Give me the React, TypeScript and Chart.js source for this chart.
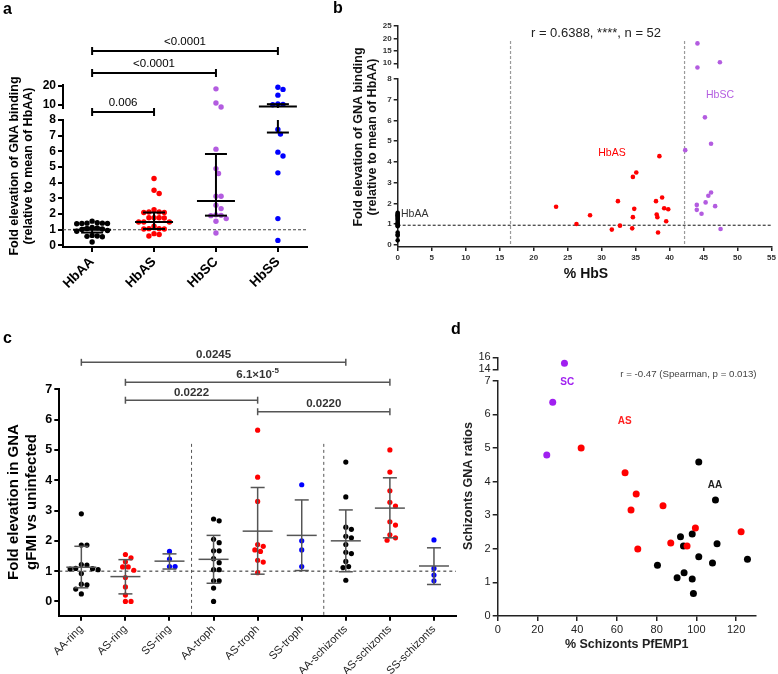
import React, { useEffect, useRef } from 'react';
import { Chart, registerables } from 'chart.js';

Chart.register(...registerables);
const FONT = '"Liberation Sans", Arial, Helvetica, sans-serif';
Chart.defaults.font.family = FONT;

// ================= DATA =================
// ---- Panel a ----
const aCategories = ['HbAA', 'HbAS', 'HbSC', 'HbSS'];
const aHbAA = [1.55, 1.45, 1.42, 1.42, 1.4, 1.4, 1.38, 1.15, 1.12, 1.08, 1.05, 1.02, 0.95, 0.9, 0.64, 0.6, 0.58, 0.55, 0.22];
const aHbAS = [4.27, 3.52, 3.31, 2.28, 2.13, 2.13, 2.1, 2.1, 1.77, 1.77, 1.77, 1.75, 1.49, 1.49, 1.49, 1.22, 1.07, 1.07, 1.05, 1.05, 0.75, 0.7, 0.6];
const aHbSC = [18.3, 10.9, 8.8, 6.14, 4.9, 4.59, 3.14, 3.14, 2.56, 2.35, 1.95, 1.92, 1.9, 1.71, 1.54, 0.79];
const aHbSS = [19.1, 18.0, 15.0, 10.4, 10.2, 10.0, 7.4, 7.1, 5.95, 5.7, 4.63, 1.71, 0.32];
const aMedian = [1.0, 1.5, 2.83, 9.1];
const aLow = [0.82, 1.05, 1.9, 7.2];
const aHigh = [1.12, 2.1, 5.83, 10.3];
const aLowTicks = [0, 1, 2, 3, 4, 5, 6, 7, 8];
const aHighTicks = [10, 20];
const aBrackets: [number, number, string][] = [[0, 3, '<0.0001'], [0, 2, '<0.0001'], [0, 1, '0.006']];
const aReference = 1;

// ---- Panel b ----
const bHbAA_x = [0, 0, 0, 0, 0, 0, 0, 0, 0, 0, 0, 0, 0, 0, 0, 0, 0, 0];
const bHbAA_y = [1.55, 1.5, 1.45, 1.42, 1.4, 1.35, 1.3, 1.25, 1.2, 1.1, 1.05, 1.0, 0.95, 0.9, 0.6, 0.5, 0.45, 0.22];
const bHbAS_x = [23.3, 26.3, 28.3, 31.5, 32.4, 32.7, 34.5, 34.6, 34.6, 34.8, 35.1, 38.0, 38.1, 38.2, 38.3, 38.5, 38.9, 39.2, 39.5, 39.8];
const bHbAS_y = [1.84, 1.01, 1.43, 0.74, 2.11, 0.93, 0.8, 1.34, 3.28, 1.74, 3.49, 2.11, 1.47, 1.34, 0.6, 4.28, 2.29, 1.77, 1.14, 1.72];
const bHbSC_x = [44.1, 44.1, 47.4, 45.2, 46.1, 42.3, 46.1, 45.7, 45.3, 44.0, 44.0, 46.7, 44.7, 47.5];
const bHbSC_y = [18.0, 8.3, 10.4, 6.15, 4.88, 4.57, 2.53, 2.37, 2.05, 1.93, 1.69, 1.87, 1.5, 0.77];
const bXTicks = [0, 5, 10, 15, 20, 25, 30, 35, 40, 45, 50, 55];
const bLowTicks = [0, 1, 2, 3, 4, 5, 6, 7, 8];
const bHighTicks = [10, 15, 20, 25];
const bGuides = [16.6, 42.2];
const bReference = 0.95;

// ---- Panel c ----
const cCategories = ['AA-ring', 'AS-ring', 'SS-ring', 'AA-troph', 'AS-troph', 'SS-troph', 'AA-schizonts', 'AS-schizonts', 'SS-schizonts'];
const cAAring = [2.89, 1.86, 1.86, 1.22, 1.2, 1.09, 1.08, 1.07, 1.05, 0.92, 0.57, 0.55, 0.41, 0.25];
const cASring = [1.55, 1.44, 1.31, 1.14, 1.14, 1.03, 0.79, 0.48, 0.21, 0.0, 0.0];
const cSSring = [1.65, 1.4, 1.15, 1.15];
const cAAtroph = [2.72, 2.66, 2.05, 1.94, 1.67, 1.67, 1.41, 1.28, 1.05, 1.05, 0.68, 0.68, 0.44, 0.0];
const cAStroph = [5.65, 4.1, 3.3, 1.88, 1.82, 1.7, 1.65, 1.36, 1.3, 0.95];
const cSStroph = [3.85, 2.0, 1.7, 1.15];
const cAAschiz = [4.6, 3.45, 2.45, 2.38, 2.15, 2.1, 1.88, 1.62, 1.58, 1.32, 1.15, 1.12, 0.7];
const cASschiz = [5.0, 4.27, 3.65, 3.27, 3.15, 2.63, 2.52, 2.2, 2.1, 2.02];
const cSSschiz = [2.03, 1.09, 0.87, 0.68];
const cMean = [1.13, 0.82, 1.33, 1.39, 2.32, 2.18, 2.0, 3.08, 1.17];
const cLow = [0.45, 0.25, 1.07, 0.6, 0.9, 1.02, 0.98, 2.1, 0.56];
const cHigh = [1.82, 1.38, 1.57, 2.18, 3.76, 3.35, 3.02, 4.08, 1.77];
const cTicks = [0, 1, 2, 3, 4, 5, 6, 7];
const cBrackets: [number, number, string, string][] = [[0, 6, '0.0245', ''], [1, 7, '6.1×10', '-5'], [1, 4, '0.0222', ''], [4, 7, '0.0220', '']];
const cDividers = [2.5, 5.5];
const cReference = 1;

// ---- Panel d ----
const dSC_x = [33.6, 27.7, 24.7];
const dSC_y = [15.0, 6.36, 4.79];
const dAS_x = [42.0, 64.1, 69.7, 67.1, 83.2, 99.5, 122.5, 87.1, 95.3, 70.5];
const dAS_y = [5.0, 4.26, 3.63, 3.15, 3.28, 2.62, 2.51, 2.17, 2.08, 1.99];
const dAA_x = [101.2, 109.6, 92.0, 97.9, 93.5, 110.4, 101.2, 80.4, 108.1, 125.7, 90.3, 93.8, 97.9, 98.5];
const dAA_y = [4.58, 3.45, 2.36, 2.44, 2.08, 2.15, 1.76, 1.51, 1.58, 1.69, 1.14, 1.29, 1.1, 0.67];
const dXTicks = [0, 20, 40, 60, 80, 100, 120];
const dLowTicks = [0, 1, 2, 3, 4, 5, 6, 7];
const dHighTicks = [14, 16];

// ================= HELPERS =================
const PURPLE_AB = '#b35ce0';
const PURPLE_D = '#a020f0';

function swarm(values: number[], toPx: (v: number) => number, pxPerX: number, d: number): number[] {
  const order = values.map((_, i) => i).sort((p, q) => values[q] - values[p]);
  const placed: { x: number; y: number }[] = [];
  const out = values.map(() => 0);
  const step = d / 2;
  for (const i of order) {
    const y = toPx(values[i]);
    for (let k = 0; k < 80; k++) {
      const off = k === 0 ? 0 : (k % 2 === 1 ? 1 : -1) * Math.ceil(k / 2) * step;
      if (placed.every((p) => (p.x - off) ** 2 + (p.y - y) ** 2 >= d * d - 0.01)) {
        placed.push({ x: off, y });
        out[i] = off / pxPerX;
        break;
      }
    }
  }
  return out;
}

function pointSet(data: any[], color: string, r: number, yAxisID: string) {
  return {
    data, yAxisID, xAxisID: 'x', showLine: false, clip: false,
    pointRadius: r, pointHoverRadius: r, pointBorderWidth: 0,
    pointBackgroundColor: color, backgroundColor: color, borderColor: color,
  };
}

function yAxis(st: any, width: number, min: number, max: number, ticks: number[], extra: any = {}) {
  return {
    type: 'linear', position: 'left', min, max,
    afterFit: (s: any) => { s.width = width; },
    afterBuildTicks: (s: any) => { s.ticks = ticks.map((value) => ({ value })); },
    border: { display: true, color: st.line, width: st.lw },
    grid: { display: true, drawOnChartArea: false, drawTicks: true, tickLength: st.tick, color: st.line, lineWidth: st.lw },
    ticks: { display: true, autoSkip: false, font: st.font, color: st.color, padding: 2 },
    ...extra,
  };
}

function gapAxis(width: number, weight: number) {
  return {
    type: 'linear', position: 'left', stack: 'y', stackWeight: weight, min: 0, max: 1,
    afterFit: (s: any) => { s.width = width; },
    border: { display: false }, grid: { display: false }, ticks: { display: false },
  };
}

function xAxis(st: any, height: number, min: number, max: number, ticks: number[], labels: string[] | null, rot: number) {
  return {
    type: 'linear', position: 'bottom', min, max,
    afterFit: (s: any) => { s.height = height; },
    afterBuildTicks: (s: any) => { s.ticks = ticks.map((value) => ({ value })); },
    border: { display: true, color: st.line, width: st.lw },
    grid: { display: true, drawOnChartArea: false, drawTicks: true, tickLength: st.tick, color: st.line, lineWidth: st.lw },
    ticks: {
      display: true, autoSkip: false, minRotation: rot, maxRotation: rot, font: st.font, color: st.color, padding: 2,
      callback: (v: any) => (labels ? labels[Math.round(v)] : String(v)),
    },
  };
}

function baseOptions(padding: any, scales: any) {
  return {
    responsive: false, animation: false, events: [],
    layout: { padding },
    plugins: { legend: { display: false }, tooltip: { enabled: false }, title: { display: false } },
    scales,
  };
}

function txt(ctx: any, t: string, x: number, y: number, font: string, color: string, rot = 0, align = 'center', base = 'middle') {
  ctx.save();
  ctx.font = font;
  ctx.fillStyle = color;
  ctx.textAlign = align;
  ctx.textBaseline = base;
  ctx.translate(x, y);
  if (rot) ctx.rotate(rot);
  ctx.fillText(t, 0, 0);
  ctx.restore();
}

function seg(ctx: any, x1: number, y1: number, x2: number, y2: number) {
  ctx.beginPath();
  ctx.moveTo(x1, y1);
  ctx.lineTo(x2, y2);
  ctx.stroke();
}

// ================= PANEL A =================
const A = { w: 320, h: 325, left: 63, right: 307, top: 85, bottom: 247, split: 8.05, bracketY: [51, 73, 112] };
function configA() {
  const colors = ['#000000', '#ff0000', PURPLE_AB, '#0000ff'];
  const groups = [aHbAA, aHbAS, aHbSC, aHbSS];
  const r = 2.7;
  const toPx = (v: number) => (v <= 8 ? v * 15.6 : 8 * 15.6 + 12 + (v - 8.3) * 1.92);
  const datasets: any[] = [];
  groups.forEach((vals, i) => {
    const off = swarm(vals, toPx, 62, 2 * r * 0.95);
    const lo: any[] = [];
    const hi: any[] = [];
    vals.forEach((v, j) => (v > A.split ? hi : lo).push({ x: i + off[j], y: v }));
    datasets.push(pointSet(lo, colors[i], r, 'yLow'));
    if (hi.length) datasets.push(pointSet(hi, colors[i], r, 'yHigh'));
  });
  const st = { font: { size: 12, weight: 'bold' }, color: '#000', line: '#000', lw: 2, tick: 5 };
  const plugin = {
    id: 'panelA',
    beforeDatasetsDraw(chart: any) {
      const { ctx, chartArea, scales } = chart;
      const y = scales.yLow.getPixelForValue(aReference);
      ctx.save();
      ctx.strokeStyle = '#444';
      ctx.lineWidth = 1;
      ctx.setLineDash([3, 2]);
      seg(ctx, chartArea.left, y, chartArea.right, y);
      ctx.restore();
    },
    afterDatasetsDraw(chart: any) {
      const { ctx, scales } = chart;
      const { x, yLow, yHigh } = scales;
      const Y = (v: number) => (v > A.split ? yHigh.getPixelForValue(v) : yLow.getPixelForValue(v));
      ctx.save();
      ctx.strokeStyle = '#000';
      ctx.lineWidth = 2;
      aCategories.forEach((_, i) => {
        const cx = x.getPixelForValue(i);
        seg(ctx, cx - 19, Y(aMedian[i]), cx + 19, Y(aMedian[i]));
        seg(ctx, cx - 11, Y(aLow[i]), cx + 11, Y(aLow[i]));
        seg(ctx, cx - 11, Y(aHigh[i]), cx + 11, Y(aHigh[i]));
        if (aLow[i] <= A.split && aHigh[i] > A.split) {
          seg(ctx, cx, Y(aLow[i]), cx, yLow.getPixelForValue(yLow.max));
          seg(ctx, cx, yHigh.getPixelForValue(yHigh.min), cx, Y(aHigh[i]));
        } else {
          seg(ctx, cx, Y(aLow[i]), cx, Y(aHigh[i]));
        }
      });
      ctx.restore();
    },
    afterDraw(chart: any) {
      const { ctx, scales } = chart;
      const { x } = scales;
      ctx.save();
      ctx.strokeStyle = '#000';
      ctx.lineWidth = 2;
      aBrackets.forEach(([f, t, label], k) => {
        const y = A.bracketY[k];
        const x1 = x.getPixelForValue(f);
        const x2 = x.getPixelForValue(t);
        seg(ctx, x1, y, x2, y);
        seg(ctx, x1, y - 4, x1, y + 4);
        seg(ctx, x2, y - 4, x2, y + 4);
        txt(ctx, label, (x1 + x2) / 2, y - 3, `11.5px ${FONT}`, '#000', 0, 'center', 'bottom');
      });
      ctx.restore();
      txt(ctx, 'Fold elevation of GNA binding', 15, 166, `bold 12.5px ${FONT}`, '#000', -Math.PI / 2);
      txt(ctx, '(relative to mean of HbAA)', 29, 166, `bold 12.5px ${FONT}`, '#000', -Math.PI / 2);
    },
  };
  const scales = {
    x: xAxis({ ...st, font: { size: 13.5, weight: 'bold' } }, A.h - A.bottom, -0.47, 3.47, [0, 1, 2, 3], aCategories, 45),
    yLow: yAxis(st, A.left, -0.1, 8, aLowTicks, { stack: 'y', stackWeight: 127 }),
    yGap: gapAxis(A.left, 12),
    yHigh: yAxis(st, A.left, 8.3, 20.3, aHighTicks, { stack: 'y', stackWeight: 23 }),
  };
  return {
    type: 'scatter',
    data: { datasets },
    options: baseOptions({ top: A.top, right: A.w - A.right, left: 0, bottom: 0 }, scales),
    plugins: [plugin],
  };
}

// ================= PANEL B =================
const B = { x0: 320, w: 458, h: 325, left: 77.7, right: 452.7, top: 26, bottom: 247, split: 8.05 };
function configB() {
  const r = 2.3;
  const datasets: any[] = [];
  const add = (xs: number[], ys: number[], color: string) => {
    const lo: any[] = [];
    const hi: any[] = [];
    xs.forEach((xv, j) => (ys[j] > B.split ? hi : lo).push({ x: xv, y: ys[j] }));
    datasets.push(pointSet(lo, color, r, 'yLow'));
    if (hi.length) datasets.push(pointSet(hi, color, r, 'yHigh'));
  };
  add(bHbAS_x, bHbAS_y, '#ff0000');
  add(bHbSC_x, bHbSC_y, PURPLE_AB);
  add(bHbAA_x, bHbAA_y, '#000000');
  const st = { font: { size: 8, weight: 'bold' }, color: '#333', line: '#222', lw: 1.5, tick: 4 };
  const plugin = {
    id: 'panelB',
    beforeDatasetsDraw(chart: any) {
      const { ctx, scales } = chart;
      const { x, yLow, yHigh } = scales;
      ctx.save();
      ctx.strokeStyle = '#9a9a9a';
      ctx.lineWidth = 1.2;
      ctx.setLineDash([3, 2]);
      bGuides.forEach((g) => seg(ctx, x.getPixelForValue(g), yHigh.getPixelForValue(19), x.getPixelForValue(g), yLow.getPixelForValue(0)));
      ctx.strokeStyle = '#111';
      ctx.lineWidth = 1;
      const y = yLow.getPixelForValue(bReference);
      seg(ctx, x.getPixelForValue(0), y, x.getPixelForValue(55), y);
      ctx.restore();
    },
    afterDraw(chart: any) {
      const { ctx } = chart;
      txt(ctx, 'r = 0.6388, ****, n = 52', 276, 33, `13px ${FONT}`, '#222');
      txt(ctx, 'HbAS', 292, 153, `10.5px ${FONT}`, '#ff0000');
      txt(ctx, 'HbSC', 400, 95, `10.5px ${FONT}`, PURPLE_AB);
      txt(ctx, 'HbAA', 81, 214, `10.5px ${FONT}`, '#333', 0, 'left');
      txt(ctx, '% HbS', 266, 274, `bold 14px ${FONT}`, '#111');
      txt(ctx, 'Fold elevation of GNA binding', 38.5, 137, `bold 12.5px ${FONT}`, '#111', -Math.PI / 2);
      txt(ctx, '(relative to mean of HbAA)', 53, 137, `bold 12.5px ${FONT}`, '#111', -Math.PI / 2);
    },
  };
  const scales = {
    x: xAxis(st, B.h - B.bottom, 0, 55, bXTicks, null, 0),
    yLow: yAxis(st, B.left, -0.1, 8, bLowTicks, { stack: 'y', stackWeight: 168 }),
    yGap: gapAxis(B.left, 11),
    yHigh: yAxis(st, B.left, 8.1, 25, bHighTicks, { stack: 'y', stackWeight: 42 }),
  };
  return {
    type: 'scatter',
    data: { datasets },
    options: baseOptions({ top: B.top, right: B.w - B.right, left: 0, bottom: 0 }, scales),
    plugins: [plugin],
  };
}

// ================= PANEL C =================
const C = { y0: 330, w: 460, h: 344, left: 59.3, right: 456, top: 59.3, bottom: 285.7, bracketY: [7.89, 7.23, 6.64, 6.26] };
function configC() {
  const groups = [cAAring, cASring, cSSring, cAAtroph, cAStroph, cSStroph, cAAschiz, cASschiz, cSSschiz];
  const palette = ['#000000', '#ff0000', '#0000ff'];
  const r = 2.6;
  const datasets: any[] = [];
  groups.forEach((vals, i) => {
    const off = swarm(vals, (v) => v * 30.3, 44.1, 2 * r + 0.4);
    datasets.push(pointSet(vals.map((v, j) => ({ x: i + off[j], y: v })), palette[i % 3], r, 'y'));
  });
  const st = { font: { size: 12.5, weight: 'bold' }, color: '#000', line: '#000', lw: 2, tick: 5 };
  const plugin = {
    id: 'panelC',
    beforeDatasetsDraw(chart: any) {
      const { ctx, chartArea, scales } = chart;
      const { x, y } = scales;
      ctx.save();
      ctx.strokeStyle = '#222';
      ctx.lineWidth = 1;
      ctx.setLineDash([3, 3]);
      const yr = y.getPixelForValue(cReference);
      seg(ctx, chartArea.left, yr, chartArea.right, yr);
      ctx.strokeStyle = '#555';
      cDividers.forEach((d) => seg(ctx, x.getPixelForValue(d), y.getPixelForValue(5.2), x.getPixelForValue(d), chartArea.bottom));
      ctx.restore();
    },
    afterDatasetsDraw(chart: any) {
      const { ctx, scales } = chart;
      const { x, y } = scales;
      ctx.save();
      ctx.strokeStyle = '#555';
      ctx.lineWidth = 1.5;
      cCategories.forEach((_, i) => {
        const cx = x.getPixelForValue(i);
        seg(ctx, cx - 15, y.getPixelForValue(cMean[i]), cx + 15, y.getPixelForValue(cMean[i]));
        seg(ctx, cx - 7, y.getPixelForValue(cLow[i]), cx + 7, y.getPixelForValue(cLow[i]));
        seg(ctx, cx - 7, y.getPixelForValue(cHigh[i]), cx + 7, y.getPixelForValue(cHigh[i]));
        seg(ctx, cx, y.getPixelForValue(cLow[i]), cx, y.getPixelForValue(cHigh[i]));
      });
      ctx.restore();
    },
    afterDraw(chart: any) {
      const { ctx, scales } = chart;
      const { x, y } = scales;
      ctx.save();
      ctx.strokeStyle = '#555';
      ctx.lineWidth = 1.5;
      cBrackets.forEach(([f, t, label, sup], k) => {
        const yy = y.getPixelForValue(C.bracketY[k]);
        const x1 = x.getPixelForValue(f);
        const x2 = x.getPixelForValue(t);
        seg(ctx, x1, yy, x2, yy);
        seg(ctx, x1, yy - 3.5, x1, yy + 3.5);
        seg(ctx, x2, yy - 3.5, x2, yy + 3.5);
        const mid = (x1 + x2) / 2;
        if (sup) {
          ctx.font = `bold 11.5px ${FONT}`;
          const w1 = ctx.measureText(label).width;
          ctx.font = `bold 8px ${FONT}`;
          const w2 = ctx.measureText(sup).width;
          const sx = mid - (w1 + w2) / 2;
          txt(ctx, label, sx, yy - 2, `bold 11.5px ${FONT}`, '#333', 0, 'left', 'bottom');
          txt(ctx, sup, sx + w1, yy - 8, `bold 8px ${FONT}`, '#333', 0, 'left', 'bottom');
        } else {
          txt(ctx, label, mid, yy - 2, `bold 11.5px ${FONT}`, '#333', 0, 'center', 'bottom');
        }
      });
      ctx.restore();
      txt(ctx, 'Fold elevation in GNA', 14, 172, `bold 15px ${FONT}`, '#000', -Math.PI / 2);
      txt(ctx, 'gFMI vs uninfected', 32, 172, `bold 15px ${FONT}`, '#000', -Math.PI / 2);
    },
  };
  const scales = {
    x: xAxis({ ...st, font: { size: 11 }, color: '#222' }, C.h - C.bottom, -0.5, 8.5, [0, 1, 2, 3, 4, 5, 6, 7, 8], cCategories, 45),
    y: yAxis(st, C.left, -0.47, 7, cTicks),
  };
  return {
    type: 'scatter',
    data: { datasets },
    options: baseOptions({ top: C.top, right: C.w - C.right, left: 0, bottom: 0 }, scales),
    plugins: [plugin],
  };
}

// ================= PANEL D =================
const D = { x0: 455, y0: 340, w: 323, h: 334, left: 42.7, right: 301, top: 17.3, bottom: 276, split: 10 };
function configD() {
  const r = 3.5;
  const datasets: any[] = [];
  const add = (xs: number[], ys: number[], color: string) => {
    const lo: any[] = [];
    const hi: any[] = [];
    xs.forEach((xv, j) => (ys[j] > D.split ? hi : lo).push({ x: xv, y: ys[j] }));
    datasets.push(pointSet(lo, color, r, 'yLow'));
    if (hi.length) datasets.push(pointSet(hi, color, r, 'yHigh'));
  };
  add(dSC_x, dSC_y, PURPLE_D);
  add(dAS_x, dAS_y, '#ff0000');
  add(dAA_x, dAA_y, '#000000');
  const st = { font: { size: 11 }, color: '#222', line: '#222', lw: 1.5, tick: 5 };
  const plugin = {
    id: 'panelD',
    afterDraw(chart: any) {
      const { ctx } = chart;
      txt(ctx, 'r = -0.47 (Spearman, p = 0.013)', 301.5, 34, `9.7px ${FONT}`, '#444', 0, 'right');
      txt(ctx, 'SC', 112.3, 42, `bold 10px ${FONT}`, PURPLE_D);
      txt(ctx, 'AS', 169.7, 81, `bold 10px ${FONT}`, '#ff2020');
      txt(ctx, 'AA', 260, 145, `bold 10px ${FONT}`, '#222');
      txt(ctx, '% Schizonts PfEMP1', 171.7, 305, `bold 12.5px ${FONT}`, '#222');
      txt(ctx, 'Schizonts GNA ratios', 13.3, 146, `bold 12.5px ${FONT}`, '#222', -Math.PI / 2);
    },
  };
  const scales = {
    x: xAxis(st, D.h - D.bottom, 0, 130, dXTicks, null, 0),
    yLow: yAxis(st, D.left, 0, 7, dLowTicks, { stack: 'y', stackWeight: 235.3 }),
    yGap: gapAxis(D.left, 11.4),
    yHigh: yAxis(st, D.left, 14, 16, dHighTicks, { stack: 'y', stackWeight: 12 }),
  };
  return {
    type: 'scatter',
    data: { datasets },
    options: baseOptions({ top: D.top, right: D.w - D.right, left: 0, bottom: 0 }, scales),
    plugins: [plugin],
  };
}

// ================= COMPONENTS =================
function Panel(props: { left: number; top: number; width: number; height: number; make: () => any }) {
  const ref = useRef<HTMLCanvasElement>(null);
  useEffect(() => {
    const chart = new Chart(ref.current as HTMLCanvasElement, props.make());
    return () => chart.destroy();
  }, []);
  return (
    <canvas
      ref={ref}
      width={props.width}
      height={props.height}
      style={{ position: 'absolute', left: props.left, top: props.top, width: props.width, height: props.height, display: 'block' }}
    />
  );
}

const letterStyle = (left: number, top: number): any => ({
  position: 'absolute', left, top, fontFamily: FONT, fontWeight: 'bold', fontSize: 16, lineHeight: '16px', color: '#000',
});

export default function App() {
  return (
    <div style={{ position: 'absolute', left: 0, top: 0, width: 778, height: 674, background: '#fff', overflow: 'hidden' }}>
      <Panel left={0} top={0} width={A.w} height={A.h} make={configA} />
      <Panel left={B.x0} top={0} width={B.w} height={B.h} make={configB} />
      <Panel left={0} top={C.y0} width={C.w} height={C.h} make={configC} />
      <Panel left={D.x0} top={D.y0} width={D.w} height={D.h} make={configD} />
      <div style={letterStyle(3, 1)}>a</div>
      <div style={letterStyle(333, 0)}>b</div>
      <div style={letterStyle(3, 330)}>c</div>
      <div style={letterStyle(451, 321)}>d</div>
    </div>
  );
}
